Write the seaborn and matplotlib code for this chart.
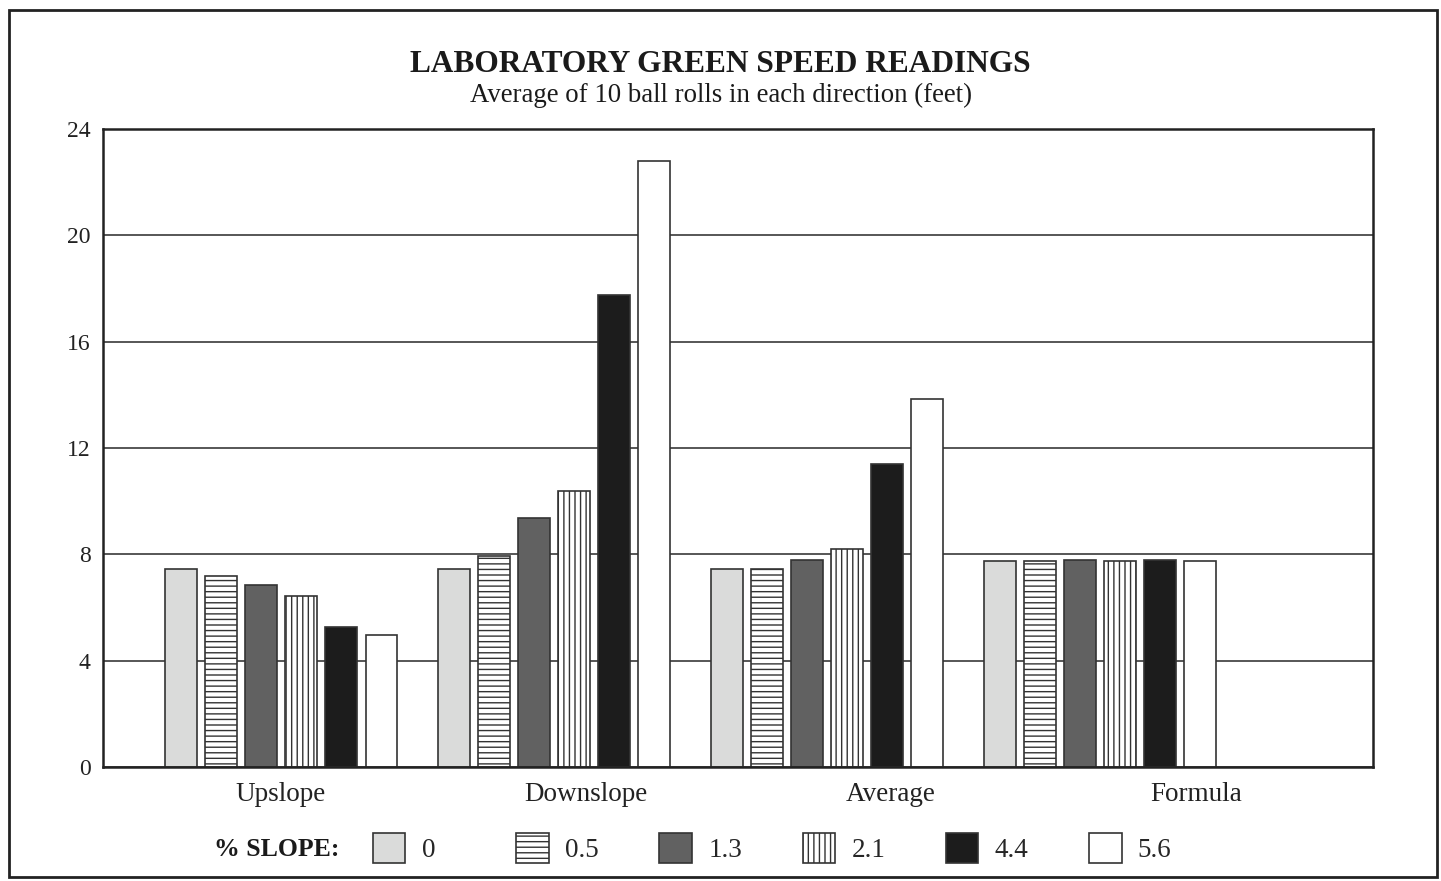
import pandas as pd
import matplotlib
matplotlib.use('Agg')
import matplotlib.pyplot as plt
import seaborn as sns
import numpy as np

# Data (feet)
directions = ['Upslope', 'Downslope', 'Average', 'Formula']
slopes = ['0', '0.5', '1.3', '2.1', '4.4', '5.6']
slope_0 = [7.45, 7.45, 7.45, 7.75]
slope_05 = [7.2, 7.95, 7.45, 7.75]
slope_13 = [6.85, 9.35, 7.8, 7.8]
slope_21 = [6.45, 10.4, 8.2, 7.75]
slope_44 = [5.25, 17.75, 11.4, 7.8]
slope_56 = [4.95, 22.8, 13.85, 7.75]

colors = ['#dadbda', '#ffffff', '#616161', '#ffffff', '#1c1c1c', '#ffffff']
hatches = ['', '---', '', '|||', '', '']

# Build long table
values = [slope_0, slope_05, slope_13, slope_21, slope_44, slope_56]
rows = []
for s, vals in zip(slopes, values):
    for d, v in zip(directions, vals):
        rows.append({'direction': d, 'slope': s, 'feet': v})
df = pd.DataFrame(rows)

sns.set_style('white')
plt.rcParams['font.family'] = ['Liberation Serif', 'DejaVu Serif']
plt.rcParams['hatch.linewidth'] = 1.0
plt.rcParams['hatch.color'] = '#333333'

fig = plt.figure(figsize=(14.41, 8.81), dpi=100)
ax = fig.add_axes([0.0715, 0.1294, 0.8813, 0.7242])

sns.barplot(data=df, x='direction', y='feet', hue='slope', order=directions,
            hue_order=slopes, palette=colors, width=0.88, gap=0.22,
            edgecolor='#333333', linewidth=1.2, saturation=1, ax=ax, legend=False)

# Apply hatching per series
for cont, h in zip(ax.containers, hatches):
    for bar in cont:
        bar.set_hatch(h)

ax.set_ylim(0, 24)
ax.set_yticks(np.arange(0, 25, 4))
ax.set_xlim(-0.652, 4.0)
ax.yaxis.grid(True, color='#3a3a3a', linewidth=1.2)
ax.set_axisbelow(True)
for sp in ax.spines.values():
    sp.set_color('#222222')
    sp.set_linewidth(1.8)

# category labels sit a bit further right than the bar groups in the original
ax.set_xticks([0, 1.117, 2.234, 3.352])
ax.set_xticklabels(directions, fontsize=19.5)
ax.tick_params(axis='x', length=0, pad=11, colors='#222222')
ax.tick_params(axis='y', length=0, pad=9, labelsize=17, colors='#222222')
ax.set_xlabel('')
ax.set_ylabel('')

# Titles
fig.text(0.5, 0.927, 'LABORATORY GREEN SPEED READINGS', ha='center', va='center',
         fontsize=22.6, fontweight='bold', color='#1a1a1a')
fig.text(0.5, 0.892, 'Average of 10 ball rolls in each direction (feet)', ha='center',
         va='center', fontsize=19.3, color='#1a1a1a')

# Legend along the bottom, one entry per fixed slot
legend_x = 373 / 1441 + np.arange(len(slopes)) * 143.2 / 1441
for c, h, lab, x in zip(colors, hatches, slopes, legend_x):
    handle = plt.Rectangle((0, 0), 1, 1, facecolor=c, edgecolor='#333333',
                           linewidth=1.2, hatch=h)
    fig.legend([handle], [lab], loc='center left', bbox_to_anchor=(x, 0.037),
               frameon=False, fontsize=19.5, handlelength=1.2, handleheight=1.3,
               handletextpad=0.6, borderpad=0, borderaxespad=0)
fig.text(0.1485, 0.036, '% SLOPE:', ha='left', va='center', fontsize=18.5,
         fontweight='bold', color='#1a1a1a')

# Outer frame
frame = plt.Rectangle((0.006, 0.004), 0.991, 0.985, transform=fig.transFigure,
                      fill=False, edgecolor='#222222', linewidth=2)
fig.patches.append(frame)

fig.savefig('out.png', dpi=100)
